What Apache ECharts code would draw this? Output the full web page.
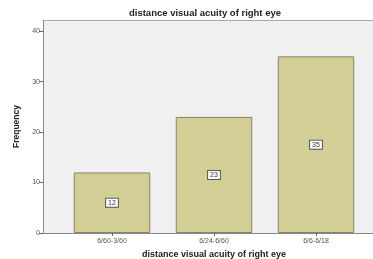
<!DOCTYPE html>
<html lang="en">
  <head>
    <meta charset="UTF-8" />
    <script src="https://cdn.jsdelivr.net/npm/echarts@6/dist/echarts.min.js"></script>
    <title>distance visual acuity</title>
    <style>
      html, body { margin: 0; padding: 0; background: #fff; }
    </style>
  </head>
  <body>
    <div id="container" style="width: 373px; height: 259px;"></div>

    <script>
      const categories = ["6/60-3/60", "6/24-6/60", "6/6-6/18"];
      const frequencies = [12, 23, 35];
      const yTicks = [0, 10, 20, 30, 40];

      const myChart = echarts.init(document.getElementById("container"));

      const gridTop = 20, gridBottom = 26;
      const yMax = 42.2;
      const font = "Liberation Sans";

      const option = {
        animation: false,
        title: {
          text: "distance visual acuity of right eye",
          left: 200,
          textAlign: "center",
          top: 3,
          textStyle: { fontSize: 9.5, fontWeight: "bold", color: "#222", fontFamily: font },
        },
        grid: [
          // frame + y axis
          { left: 43, right: -5, top: gridTop, bottom: gridBottom, show: true, backgroundColor: "#f0f0f0", borderWidth: 0, outerBoundsMode: "none" },
          // bars
          { left: 61, right: 6, top: gridTop, bottom: gridBottom, outerBoundsMode: "none" },
        ],
        xAxis: [
          {
            gridIndex: 0,
            type: "value",
            min: 0,
            max: 1,
            axisLine: { show: true, lineStyle: { color: "#888", width: 1 } },
            axisTick: { show: false },
            axisLabel: { show: false },
            splitLine: { show: false },
          },
          {
            gridIndex: 0,
            type: "value",
            position: "top",
            min: 0,
            max: 1,
            axisLine: { show: true, onZero: false, lineStyle: { color: "#aaa", width: 1 } },
            axisTick: { show: false },
            axisLabel: { show: false },
            splitLine: { show: false },
          },
          {
            gridIndex: 1,
            type: "category",
            data: categories,
            axisLine: { show: false, onZero: false },
            axisTick: { show: true, alignWithLabel: true, length: 3, lineStyle: { color: "#666" } },
            axisLabel: { fontSize: 7, color: "#555", margin: 5, fontFamily: font },
            name: "distance visual acuity of right eye",
            nameLocation: "middle",
            nameGap: 15,
            nameTextStyle: { fontSize: 9, fontWeight: "bold", color: "#222", fontFamily: font },
          },
        ],
        yAxis: [
          {
            gridIndex: 0,
            type: "value",
            min: 0,
            max: yMax,
            interval: 10,
            axisLine: { show: true, lineStyle: { color: "#888", width: 1 } },
            axisTick: { show: true, length: 4, lineStyle: { color: "#666" } },
            axisLabel: {
              fontSize: 7,
              color: "#555",
              margin: 3,
              showMaxLabel: false,
              fontFamily: font,
              formatter: (v) => (yTicks.includes(v) ? String(v) : ""),
            },
            splitLine: { show: false },
            name: "Frequency",
            nameLocation: "middle",
            nameGap: 17,
            nameTextStyle: { fontSize: 8.5, fontWeight: "bold", color: "#222", fontFamily: font },
          },
          {
            gridIndex: 1,
            type: "value",
            min: 0,
            max: yMax,
            interval: 10,
            axisLine: { show: false },
            axisTick: { show: false },
            axisLabel: { show: false },
            splitLine: { show: false },
          },
        ],
        series: [
          {
            type: "bar",
            xAxisIndex: 2,
            yAxisIndex: 1,
            data: frequencies,
            barWidth: "75%",
            itemStyle: { color: "#d2ce96", borderColor: "#85836a", borderWidth: 1 },
            label: {
              show: true,
              position: "inside",
              fontSize: 7,
              color: "#333",
              backgroundColor: "#fff",
              borderColor: "#555",
              borderWidth: 1,
              padding: [1, 2, 0, 2],
              fontFamily: font,
            },
          },
        ],
      };

      myChart.setOption(option);
    </script>
  </body>
</html>
